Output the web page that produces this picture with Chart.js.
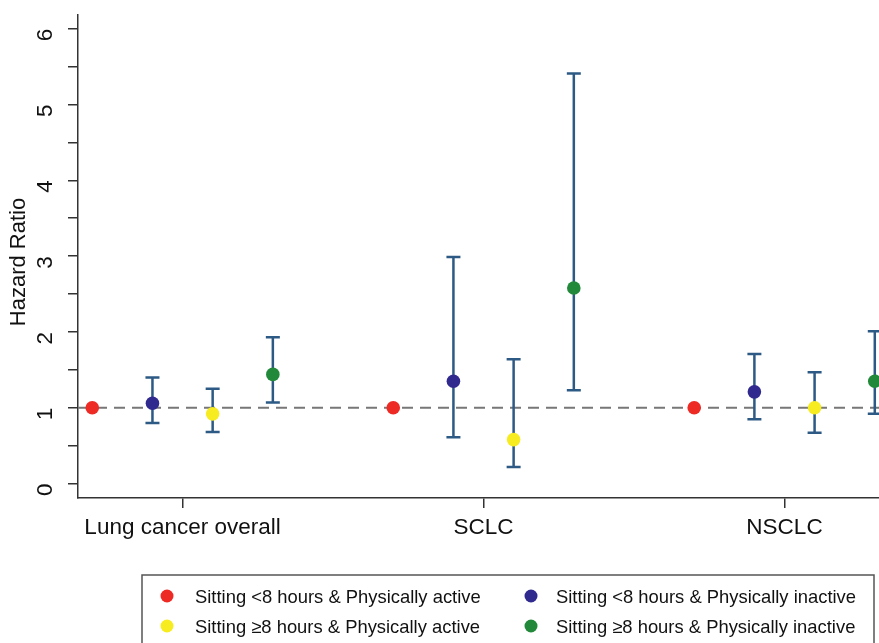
<!DOCTYPE html>
<html><head><meta charset="utf-8">
<script src="https://cdn.jsdelivr.net/npm/chart.js@4/dist/chart.umd.min.js"></script>
<style>html,body{margin:0;padding:0;background:#fff}#wrap{width:879px;height:643px;position:relative}</style>
</head><body><div id="wrap"><canvas id="c" width="879" height="643"></canvas></div>
<script>
const categories = ['Lung cancer overall', 'SCLC', 'NSCLC'];
const seriesNames = [
  'Sitting <8 hours & Physically active',
  'Sitting <8 hours & Physically inactive',
  'Sitting ≥8 hours & Physically active',
  'Sitting ≥8 hours & Physically inactive'
];
const hrActiveShort    = [1.00, 1.00, 1.00];
const hrInactiveShort  = [1.06, 1.35, 1.21];
const hrActiveLong     = [0.92, 0.58, 1.00];
const hrInactiveLong   = [1.44, 2.58, 1.35];
const lowInactiveShort = [0.80, 0.61, 0.85];
const upInactiveShort  = [1.40, 2.99, 1.71];
const lowActiveLong    = [0.68, 0.22, 0.67];
const upActiveLong     = [1.25, 1.64, 1.47];
const lowInactiveLong  = [1.07, 1.23, 0.92];
const upInactiveLong   = [1.93, 5.41, 2.01];
const yTickLabels = ['0', '1', '2', '3', '4', '5', '6'];
const yTitle = 'Hazard Ratio';

const colors = ['#ee2a25', '#302a8f', '#f6ec20', '#22893a'];
const seriesValues = [hrActiveShort, hrInactiveShort, hrActiveLong, hrInactiveLong];
const seriesLow = [null, lowInactiveShort, lowActiveLong, lowInactiveLong];
const seriesUp = [null, upInactiveShort, upActiveLong, upInactiveLong];
const GROUP_STEP = 5;

const datasets = seriesValues.map((vals, s) => ({
  label: seriesNames[s],
  data: vals.map((v, g) => ({x: g * GROUP_STEP + s, y: v, lo: seriesLow[s] ? seriesLow[s][g] : null, hi: seriesUp[s] ? seriesUp[s][g] : null})),
  backgroundColor: colors[s],
  borderColor: colors[s],
  pointRadius: 6.8,
  pointHoverRadius: 6.8,
  borderWidth: 0,
  clip: false
}));

const FONT = 'Liberation Sans, Arial, sans-serif';

const refLine = {
  id: 'refLine',
  beforeDatasetsDraw(chart) {
    const {ctx, chartArea, scales} = chart;
    const y = scales.y.getPixelForValue(1);
    ctx.save();
    ctx.strokeStyle = '#777';
    ctx.lineWidth = 2;
    ctx.setLineDash([11, 7]);
    ctx.beginPath();
    ctx.moveTo(chartArea.left, y);
    ctx.lineTo(chartArea.right, y);
    ctx.stroke();
    ctx.restore();
    // error bars
    ctx.save();
    ctx.strokeStyle = '#2d5a85';
    ctx.lineWidth = 2.5;
    chart.data.datasets.forEach(ds => {
      ds.data.forEach(p => {
        if (p.lo == null) return;
        const x = scales.x.getPixelForValue(p.x);
        const y1 = scales.y.getPixelForValue(p.lo);
        const y2 = scales.y.getPixelForValue(p.hi);
        ctx.beginPath();
        ctx.moveTo(x, y1); ctx.lineTo(x, y2);
        ctx.moveTo(x - 7, y1); ctx.lineTo(x + 7, y1);
        ctx.moveTo(x - 7, y2); ctx.lineTo(x + 7, y2);
        ctx.stroke();
      });
    });
    ctx.restore();
  }
};

const boxLegend = {
  id: 'boxLegend',
  afterDraw(chart) {
    const ctx = chart.ctx;
    ctx.save();
    // y-axis title
    ctx.font = '22px ' + FONT;
    ctx.fillStyle = '#111';
    ctx.textAlign = 'center';
    ctx.textBaseline = 'alphabetic';
    ctx.translate(25, 262);
    ctx.rotate(-Math.PI / 2);
    ctx.fillText(yTitle, 0, 0);
    ctx.restore();

    ctx.save();
    ctx.strokeStyle = '#555';
    ctx.lineWidth = 1.5;
    ctx.strokeRect(142, 575, 732, 80);
    ctx.font = '18.4px ' + FONT;
    ctx.textBaseline = 'alphabetic';
    const pos = [[167, 596], [531, 596], [167, 626], [531, 626]];
    chart.data.datasets.forEach((ds, i) => {
      const [x, y] = pos[i];
      ctx.beginPath();
      ctx.fillStyle = ds.backgroundColor;
      ctx.arc(x, y, 6.5, 0, Math.PI * 2);
      ctx.fill();
      ctx.fillStyle = '#111';
      ctx.fillText(ds.label, x + (i % 2 ? 25 : 28), y + 6.7);
    });
    ctx.restore();
  }
};

new Chart(document.getElementById('c'), {
  type: 'scatter',
  data: {datasets},
  plugins: [refLine, boxLegend],
  options: {
    responsive: false,
    animation: false,
    events: [],
    layout: {autoPadding: false, padding: {top: 15, right: 0, bottom: 0, left: 0}},
    plugins: {legend: {display: false}, tooltip: {enabled: false}},
    scales: {
      x: {
        type: 'linear',
        min: -0.237,
        max: 13.07,
        afterBuildTicks(scale) {
          scale.ticks = categories.map((c, g) => ({value: g * GROUP_STEP + 1.5}));
        },
        afterFit(scale) { scale.height = 145; scale.paddingLeft = 0; scale.paddingRight = 0; },
        ticks: {
          autoSkip: false,
          maxRotation: 0,
          color: '#111',
          font: {family: FONT, size: 22.5},
          padding: 6,
          callback(v, i) { return categories[i]; }
        },
        grid: {drawOnChartArea: false, tickLength: 10, color: '#333', lineWidth: 1.5},
        border: {color: '#333', width: 1.5}
      },
      y: {
        min: -0.19,
        max: 6.18,
        afterBuildTicks(scale) {
          const t = [];
          for (let v = 0; v <= 6; v += 0.5) t.push({value: v});
          scale.ticks = t;
        },
        afterFit(scale) { scale.width = 78; scale.paddingTop = 0; scale.paddingBottom = 0; },
        ticks: {
          autoSkip: false,
          minRotation: 90,
          maxRotation: 90,
          color: '#111',
          font: {family: FONT, size: 22.5},
          padding: 22,
          callback(v) { return Number.isInteger(v) ? yTickLabels[v] : ''; }
        },
        grid: {drawOnChartArea: false, tickLength: 10, color: '#333', lineWidth: 1.5},
        border: {color: '#333', width: 1.5}
      }
    }
  }
});
</script></body></html>
